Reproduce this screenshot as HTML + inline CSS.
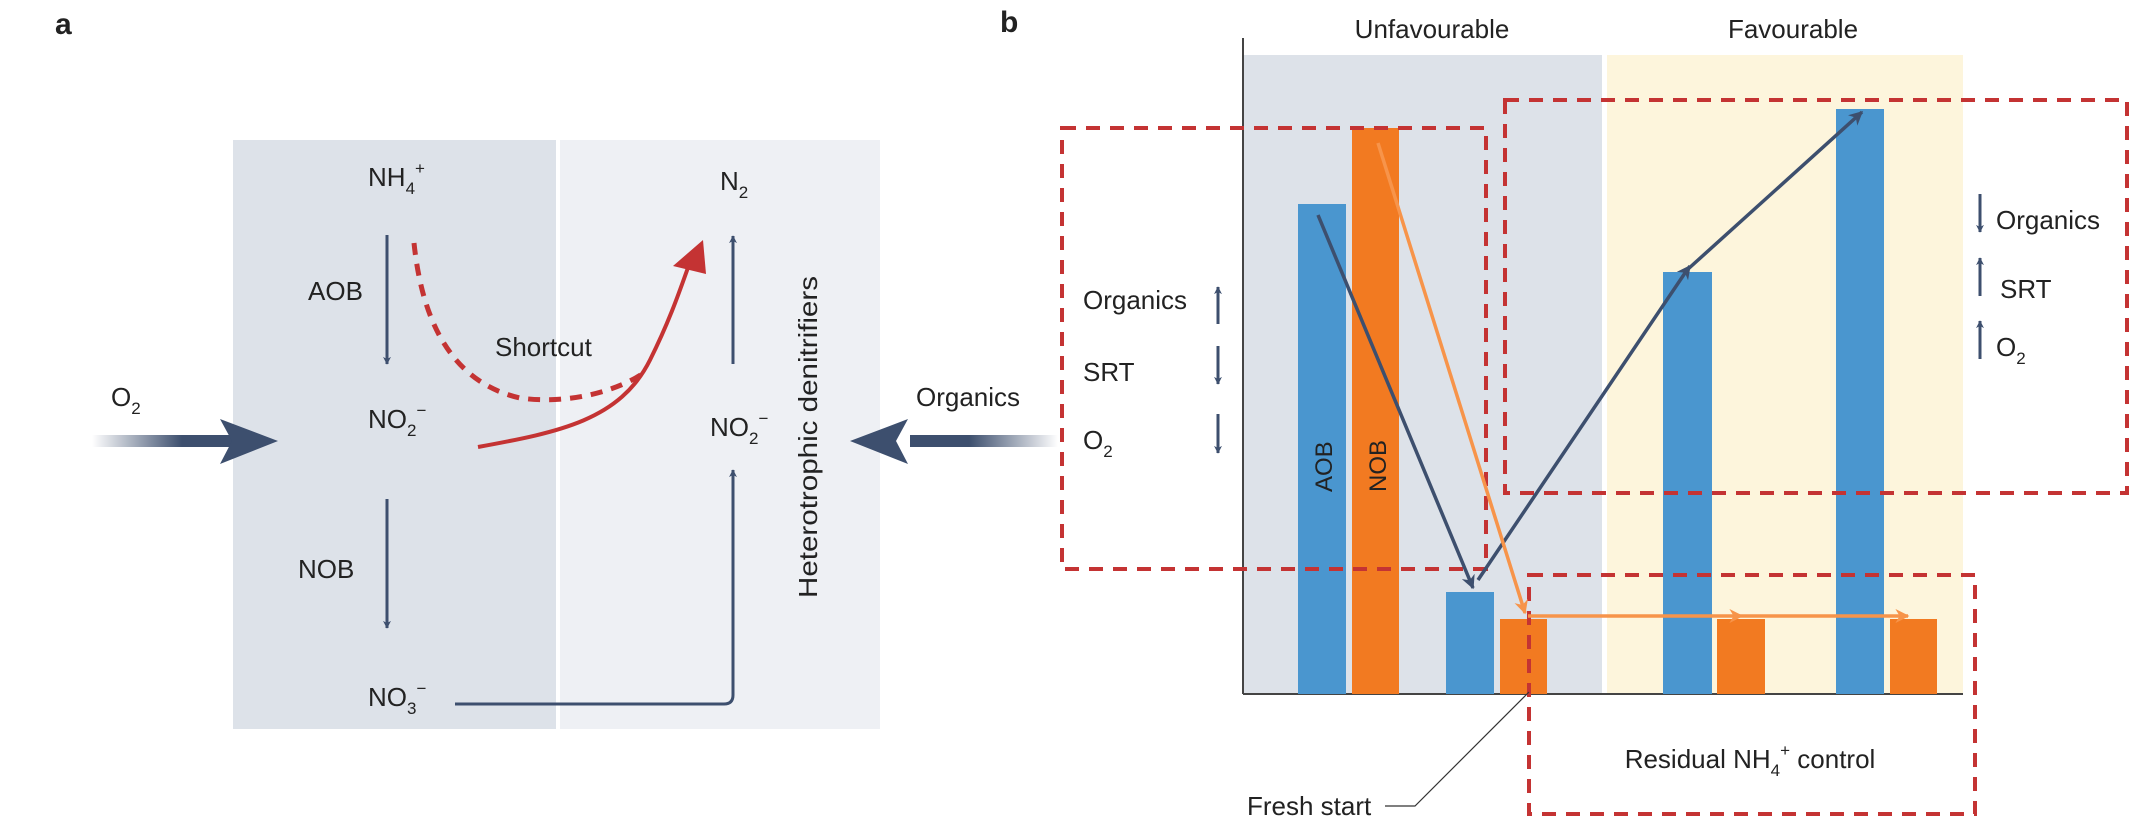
<!DOCTYPE html>
<html><head><meta charset="utf-8"><style>html,body{margin:0;padding:0;background:#fff}svg{display:block}text{font-family:"Liberation Sans",sans-serif;fill:#222}</style></head><body>
<svg width="2130" height="818" viewBox="0 0 2130 818" xmlns="http://www.w3.org/2000/svg">
<defs>
<linearGradient id="gl" x1="0" x2="1"><stop offset="0" stop-color="#3d4f6e" stop-opacity="0"/><stop offset="0.6" stop-color="#3d4f6e"/></linearGradient>
<linearGradient id="gr" x1="1" x2="0"><stop offset="0" stop-color="#3d4f6e" stop-opacity="0"/><stop offset="0.6" stop-color="#3d4f6e"/></linearGradient>
<marker id="ad" viewBox="0 0 10 10" refX="9" refY="5" markerWidth="8" markerHeight="8" markerUnits="userSpaceOnUse" orient="auto"><path d="M0,0 L10,5 L0,10 L3,5 Z" fill="#3d4f6e"/></marker>
<marker id="ab" viewBox="0 0 10 10" refX="9" refY="5" markerWidth="14" markerHeight="14" markerUnits="userSpaceOnUse" orient="auto"><path d="M0,0 L10,5 L0,10 L3,5 Z" fill="#3d4f6e"/></marker>
<marker id="ao" viewBox="0 0 10 10" refX="9" refY="5" markerWidth="14" markerHeight="14" markerUnits="userSpaceOnUse" orient="auto"><path d="M0,0 L10,5 L0,10 L3,5 Z" fill="#f7944a"/></marker>
</defs>
<text x="55" y="34" font-size="30" font-weight="bold" fill="#111">a</text>
<text x="1000" y="32" font-size="30" font-weight="bold" fill="#111">b</text>
<!-- panel a -->
<rect x="233" y="140" width="323" height="589" fill="#dde2e9"/>
<rect x="560" y="140" width="320" height="589" fill="#eef0f4"/>
<g font-size="26">
<text x="368" y="186">NH<tspan font-size="17" dy="8">4</tspan><tspan font-size="17" dy="-20">+</tspan></text>
<text x="308" y="300">AOB</text>
<text x="368" y="428">NO<tspan font-size="17" dy="8">2</tspan><tspan font-size="17" dy="-20">−</tspan></text>
<text x="298" y="578">NOB</text>
<text x="368" y="706">NO<tspan font-size="17" dy="8">3</tspan><tspan font-size="17" dy="-20">−</tspan></text>
<text x="720" y="190">N<tspan font-size="17" dy="8">2</tspan></text>
<text x="710" y="436">NO<tspan font-size="17" dy="8">2</tspan><tspan font-size="17" dy="-20">−</tspan></text>
<text x="495" y="356">Shortcut</text>
<text x="111" y="406">O<tspan font-size="17" dy="8">2</tspan></text>
<text x="916" y="406">Organics</text>
<text transform="translate(817,598) rotate(-90)" textLength="322" lengthAdjust="spacingAndGlyphs">Heterotrophic denitrifiers</text>
</g>
<g stroke="#3d4f6e" stroke-width="3" fill="none">
<line x1="387" y1="235" x2="387" y2="364" marker-end="url(#ad)"/>
<line x1="387" y1="499" x2="387" y2="628" marker-end="url(#ad)"/>
<line x1="733" y1="364" x2="733" y2="236" marker-end="url(#ad)"/>
<path d="M455,704 L724,704 Q733,704 733,695 L733,470" marker-end="url(#ad)"/>
</g>
<rect x="92" y="435" width="150" height="12" fill="url(#gl)"/>
<path d="M220,419 L278,441 L220,464 L232,441 Z" fill="#3d4f6e"/>
<rect x="910" y="435" width="148" height="12" fill="url(#gr)"/>
<path d="M908,419 L850,441 L908,464 L896,441 Z" fill="#3d4f6e"/>
<path d="M414,243 C420,300 440,380 520,398 C570,405 620,390 645,372" stroke="#c43333" stroke-width="5" fill="none" stroke-dasharray="12,9"/>
<path d="M478,447 C560,432 620,420 650,360 C670,320 680,290 690,262" stroke="#c43333" stroke-width="4" fill="none"/>
<path d="M673,266 L703,240 L706,274 Z" fill="#c43333"/>
<!-- panel b -->
<rect x="1243" y="55" width="359" height="639" fill="#dde2e9"/>
<rect x="1607" y="55" width="356" height="639" fill="#fdf5dc"/>
<g stroke="#444" stroke-width="2"><line x1="1243" y1="38" x2="1243" y2="694"/><line x1="1243" y1="694" x2="1963" y2="694"/></g>
<g font-size="26">
<text x="1432" y="38" text-anchor="middle">Unfavourable</text>
<text x="1793" y="38" text-anchor="middle">Favourable</text>
</g>
<g fill="#4a96cf"><rect x="1298" y="204" width="48" height="490"/><rect x="1446" y="592" width="48" height="102"/><rect x="1663" y="272" width="49" height="422"/><rect x="1836" y="109" width="48" height="585"/></g>
<g fill="#f27a21"><rect x="1352" y="128" width="47" height="566"/><rect x="1500" y="619" width="47" height="75"/><rect x="1717" y="619" width="48" height="75"/><rect x="1890" y="619" width="47" height="75"/></g>
<g font-size="24"><text transform="translate(1332,492) rotate(-90)">AOB</text><text transform="translate(1386,492) rotate(-90)">NOB</text></g>
<g stroke="#c43333" stroke-width="4" fill="none" stroke-dasharray="14,10">
<rect x="1062" y="128" width="424" height="441"/>
<rect x="1505" y="100" width="622" height="393"/>
<rect x="1529" y="575" width="446" height="239"/>
</g>
<g stroke="#3d4f6e" stroke-width="3.5" fill="none">
<line x1="1318" y1="215" x2="1473" y2="588" marker-end="url(#ab)"/>
<polyline points="1478,580 1687,270 1862,112" marker-end="url(#ab)"/>
<line x1="1687" y1="270" x2="1690" y2="266" marker-end="url(#ab)"/>
</g>
<g stroke="#f7944a" stroke-width="3.5" fill="none">
<line x1="1378" y1="143" x2="1525" y2="613" marker-end="url(#ao)"/>
<line x1="1528" y1="616" x2="1742" y2="616" marker-end="url(#ao)"/>
<line x1="1742" y1="616" x2="1908" y2="616" marker-end="url(#ao)"/>
</g>
<g font-size="26">
<text x="1083" y="309">Organics</text>
<text x="1083" y="381">SRT</text>
<text x="1083" y="449">O<tspan font-size="17" dy="8">2</tspan></text>
<text x="1996" y="229">Organics</text>
<text x="2000" y="298">SRT</text>
<text x="1996" y="356">O<tspan font-size="17" dy="8">2</tspan></text>
<text x="1750" y="768" text-anchor="middle">Residual NH<tspan font-size="17" dy="8">4</tspan><tspan font-size="17" dy="-20">+</tspan><tspan dy="12"> control</tspan></text>
<text x="1247" y="815">Fresh start</text>
</g>
<g stroke="#3d4f6e" stroke-width="3" fill="none">
<line x1="1218" y1="324" x2="1218" y2="287" marker-end="url(#ad)"/>
<line x1="1218" y1="346" x2="1218" y2="384" marker-end="url(#ad)"/>
<line x1="1218" y1="414" x2="1218" y2="453" marker-end="url(#ad)"/>
<line x1="1980" y1="194" x2="1980" y2="232" marker-end="url(#ad)"/>
<line x1="1980" y1="296" x2="1980" y2="258" marker-end="url(#ad)"/>
<line x1="1980" y1="359" x2="1980" y2="321" marker-end="url(#ad)"/>
</g>
<polyline points="1385,806 1415,806 1529,692" stroke="#333" stroke-width="1.2" fill="none"/>
</svg>
</body></html>
